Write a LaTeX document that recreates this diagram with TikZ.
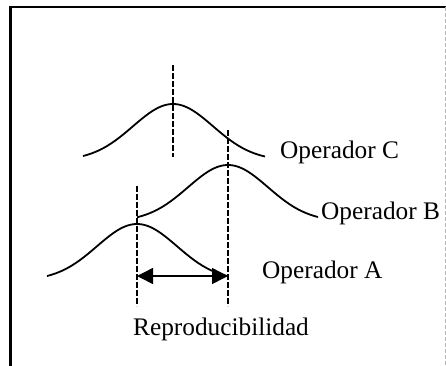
\documentclass[tikz,border=0pt]{standalone}
\usepackage{fontspec}
\setmainfont{Liberation Serif}
\usetikzlibrary{arrows.meta}
\begin{document}
\begin{tikzpicture}[x=1pt,y=-1pt,
  curve/.style={line width=1.8pt},
  guide/.style={line width=1.8pt, dash pattern=on 5.5pt off 2.5pt},
  lbl/.style={anchor=base west, inner sep=0pt, font=\fontsize{25.3}{30}\selectfont},
  dim/.style={line width=1.5pt, {Triangle[length=16pt,width=16pt]}-{Triangle[length=16pt,width=16pt]}},
  frame/.style={line width=2.2pt}]
\useasboundingbox (0,0) rectangle (446,365);
% frame
\draw[frame] (10.5,370) -- (10.5,7) -- (446,7);
\draw[line width=0.8pt, gray!60, dash pattern=on 4pt off 2pt] (445,7) -- (445,365);
% curves
\draw[curve] plot[domain=83:265, samples=90, smooth] (\x, {160.5-56.5*exp(-((\x-173)/40)^2/2)});
\draw[curve] plot[domain=137:318, samples=90, smooth] (\x, {221.5-56.5*exp(-((\x-228)/40)^2/2)});
\draw[curve] plot[domain=47:228, samples=90, smooth] (\x, {280.5-56.5*exp(-((\x-137)/40)^2/2)});
% guide lines
\coordinate (cT) at (173,65);  \coordinate (cB) at (173,157);
\coordinate (bT) at (228,130); \coordinate (bB) at (228,306);
\coordinate (aT) at (137,186); \coordinate (aB) at (137,306);
\draw[guide] (cT) -- (cB);
\draw[guide] (bT) -- (bB);
\draw[guide] (aT) -- (aB);
% dimension arrow
\coordinate (dL) at (137,276); \coordinate (dR) at (228,276);
\draw[dim] (dL) -- (dR);
% labels
\node[lbl] (opC) at (280,158) {Operador C};
\node[lbl] (opB) at (321,219) {Operador B};
\node[lbl] (opA) at (262,278) {Operador A};
\node[lbl] (rep) at (133,335) {Reproducibilidad};
\end{tikzpicture}
\end{document}
